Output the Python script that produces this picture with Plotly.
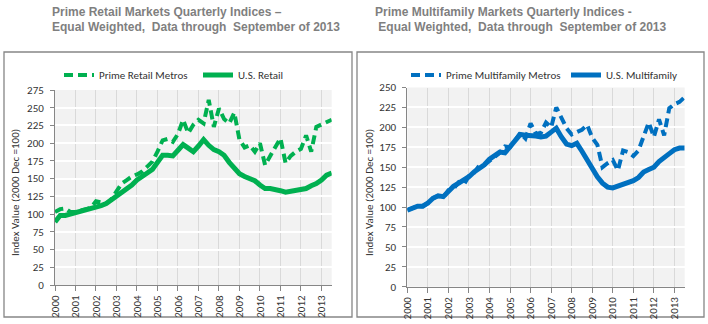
import plotly.graph_objects as go

# ---------------- data ----------------
years = list(range(2000, 2014))
year_labels = [str(y) for y in years]
# quarterly observations 2000Q1 .. 2013Q3 (55 quarters)
quarters = [2000 + i / 4 for i in range(55)]

retail_prime = [103, 107, 108, 103,
                103, 105, 107, 109,
                118, 116, 115, 121,
                133, 143, 148, 153,
                156, 160, 167, 174,
                188, 204, 206, 202,
                213, 233, 214, 226,
                233, 228, 261, 223,
                249, 234, 228, 243,
                205, 194, 197, 188,
                200, 169, 182, 195,
                207, 172, 182, 188,
                192, 211, 188, 223,
                226, 229, 233]
retail_us = [89, 98, 98, 100,
             102, 104, 106, 108,
             109, 112, 115, 120,
             127, 132, 136, 141,
             148, 154, 158, 163,
             173, 183, 183, 182,
             190, 198, 193, 188,
             196, 205, 197, 191,
             188, 183, 173, 164,
             157, 153, 150, 147,
             141, 136, 136, 135,
             133, 131, 132, 133,
             134, 136, 140, 143,
             148, 155, 158]
mf_prime = [96, 99, 101, 101,
            105, 111, 114, 112,
            121, 123, 131, 128,
            139, 143, 152, 153,
            158, 164, 168, 176,
            175, 184, 193, 186,
            205, 192, 193, 206,
            200, 225, 211, 199,
            191, 194, 197, 203,
            187, 178, 150, 155,
            159, 146, 171, 169,
            164, 171, 190, 206,
            188, 210, 190, 224,
            229, 232, 238]
mf_us = [96, 99, 101, 101,
         105, 111, 114, 113,
         120, 126, 130, 134,
         138, 144, 148, 153,
         160, 165, 169, 168,
         176, 183, 191, 190,
         190, 189, 188, 189,
         194, 199, 188, 179,
         177, 180, 170, 159,
         149, 138, 130, 125,
         124, 126, 129, 130,
         133, 137, 144, 147,
         150, 157, 163, 167,
         172, 174, 174]

W, H = 708, 324
GREEN = "#00B050"
BLUE = "#0070C0"
TICKFONT = dict(family="Calibri, Carlito, Lato, sans-serif", size=11, color="#333333")
TITLEFONT = dict(family="Arial, Liberation Sans, sans-serif", size=12, color="#7F7F7F")

fig = go.Figure()
fig.add_trace(go.Scatter(x=quarters, y=retail_prime, name="Prime Retail Metros", mode="lines",
                         line=dict(color=GREEN, width=4, dash="9px,5px"),
                         xaxis="x", yaxis="y", legend="legend"))
fig.add_trace(go.Scatter(x=quarters, y=retail_us, name="U.S. Retail", mode="lines",
                         line=dict(color=GREEN, width=5),
                         xaxis="x", yaxis="y", legend="legend2"))
fig.add_trace(go.Scatter(x=quarters, y=mf_prime, name="Prime Multifamily Metros", mode="lines",
                         line=dict(color=BLUE, width=4, dash="9px,5px"),
                         xaxis="x2", yaxis="y2", legend="legend3"))
fig.add_trace(go.Scatter(x=quarters, y=mf_us, name="U.S. Multifamily", mode="lines",
                         line=dict(color=BLUE, width=5),
                         xaxis="x2", yaxis="y2", legend="legend4"))

xcommon = dict(range=[2000, 2013.5], tickvals=years, ticktext=year_labels, tickangle=-90,
               showgrid=True, gridcolor="#D9D9D9", gridwidth=1, zeroline=False,
               showline=True, linecolor="#868686", linewidth=1,
               ticks="outside", ticklen=5, tickcolor="#868686",
               tickfont=TICKFONT)
ycommon = dict(dtick=25, showgrid=True, gridcolor="#FFFFFF", gridwidth=1.5, zeroline=False,
               showline=True, linecolor="#868686", linewidth=1,
               ticks="outside", ticklen=4, tickcolor="#868686",
               tickfont=TICKFONT, ticklabelstandoff=4)


def leg(xpx):
    return dict(orientation="h", x=xpx / W, y=1 - 75 / H, xanchor="left", yanchor="middle",
                font=TICKFONT, bgcolor="rgba(0,0,0,0)", borderwidth=0)


fig.update_layout(
    width=W, height=H,
    margin=dict(l=0, r=0, t=0, b=0, autoexpand=False),
    paper_bgcolor="white", plot_bgcolor="#F2F2F2",
    xaxis=dict(domain=[55 / W, 331.7 / W], anchor="y", **xcommon),
    yaxis=dict(domain=[1 - 285 / H, 1 - 90 / H], anchor="x", range=[0, 275], **ycommon),
    xaxis2=dict(domain=[407.3 / W, 684.7 / W], anchor="y2", **xcommon),
    yaxis2=dict(domain=[1 - 286.7 / H, 1 - 87.5 / H], anchor="x2", range=[0, 250], **ycommon),
    legend=leg(59),
    legend2=leg(198),
    legend3=leg(406),
    legend4=leg(566),
    showlegend=True,
)

# chart borders
for x0, x1 in [(4, 352), (357, 704)]:
    fig.add_shape(type="rect", xref="paper", yref="paper",
                  x0=x0 / W, x1=x1 / W, y0=1 - 317 / H, y1=1 - 52 / H,
                  line=dict(color="#868686", width=1.3), fillcolor="rgba(0,0,0,0)", layer="below")

# titles
titles = [
    (50, "<b>Prime Retail Markets Quarterly Indices –</b>",
     "<b>Equal Weighted,\u00a0 Data through\u00a0 September of 2013</b>"),
    (373, "<b>Prime Multifamily Markets Quarterly Indices -</b>",
     "<b>\u00a0Equal Weighted,\u00a0 Data through\u00a0 September of 2013</b>"),
]
for x, l1, l2 in titles:
    fig.add_annotation(x=x / W, y=1 - 12 / H, xref="paper", yref="paper", text=l1,
                       showarrow=False, xanchor="left", yanchor="middle", font=TITLEFONT)
    fig.add_annotation(x=x / W, y=1 - 27 / H, xref="paper", yref="paper", text=l2,
                       showarrow=False, xanchor="left", yanchor="middle", font=TITLEFONT)

# y-axis titles
for x in [15, 369]:
    fig.add_annotation(x=x / W, y=1 - 193 / H, xref="paper", yref="paper",
                       text="Index Value (2000 Dec =100)", textangle=-90,
                       showarrow=False, xanchor="center", yanchor="middle", font=TICKFONT)

fig.write_html("out.html")
